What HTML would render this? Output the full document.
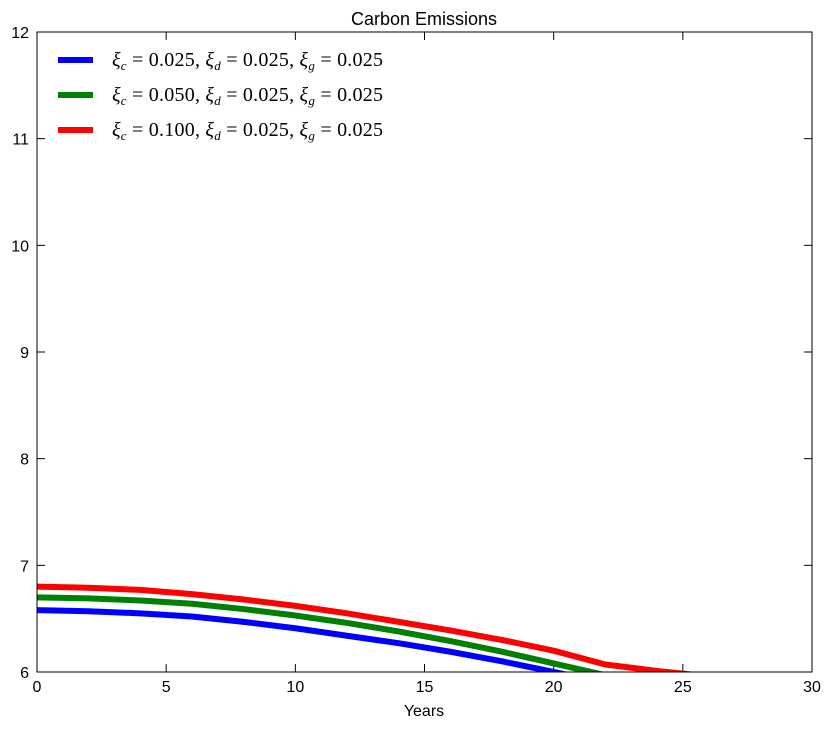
<!DOCTYPE html>
<html><head><meta charset="utf-8"><style>
body{margin:0;background:#fff;}
svg text{font-family:"Liberation Sans",sans-serif;}
</style></head><body>
<svg width="832" height="730">
<defs><clipPath id="plot"><rect x="37" y="32" width="775" height="640"/></clipPath></defs>
<rect x="0" y="0" width="832" height="730" fill="#fff"/>
<text x="424" y="25" text-anchor="middle" font-size="18">Carbon Emissions</text>
<g id="ticks"></g>
<g id="series" clip-path="url(#plot)"></g>
<rect x="37" y="32" width="775" height="640" fill="none" stroke="#000" stroke-width="1"/>
<text x="424" y="716" text-anchor="middle" font-size="16">Years</text>
<g id="legend"></g>
</svg>
<script>
const years=[0,2,4,6,8,10,12,14,16,18,20,22,24,26,28,30];
const seriesBlue=[6.58,6.57,6.55,6.52,6.47,6.41,6.34,6.27,6.19,6.10,6.00,5.90,5.82,5.76,5.71,5.67];
const seriesGreen=[6.70,6.69,6.67,6.64,6.59,6.53,6.46,6.38,6.29,6.19,6.08,5.97,5.90,5.84,5.80,5.76];
const seriesRed=[6.80,6.79,6.77,6.73,6.68,6.62,6.55,6.47,6.39,6.30,6.20,6.07,6.01,5.96,5.91,5.87];
const xTicks=[0,5,10,15,20,25,30];
const yTicks=[6,7,8,9,10,11,12];
const xiC=["0.025","0.050","0.100"];
const xiD=["0.025","0.025","0.025"];
const xiG=["0.025","0.025","0.025"];
const NS="http://www.w3.org/2000/svg";
const X=v=>37+(v-0)/30*775, Y=v=>672-(v-6)/6*640;
function mk(t,a,p){const e=document.createElementNS(NS,t);for(const k in a)e.setAttribute(k,a[k]);p.appendChild(e);return e;}
const tg=document.getElementById('ticks');
xTicks.forEach(v=>{const x=X(v);
 mk('line',{x1:x,x2:x,y1:672,y2:664,stroke:'#000'},tg);
 mk('line',{x1:x,x2:x,y1:32,y2:40,stroke:'#000'},tg);
 const t=mk('text',{x:x,y:692,'text-anchor':'middle','font-size':16},tg);t.textContent=v;
 
 });
yTicks.forEach(v=>{const y=Y(v);
 mk('line',{x1:37,x2:45,y1:y,y2:y,stroke:'#000'},tg);
 mk('line',{x1:812,x2:804,y1:y,y2:y,stroke:'#000'},tg);
 const t=mk('text',{x:29,y:y+6,'text-anchor':'end','font-size':16},tg);t.textContent=v;
 
 });
const sg=document.getElementById('series');
const all=[[seriesBlue,'#0000ff','series-blue'],[seriesGreen,'#008000','series-green'],[seriesRed,'#ff0000','series-red']];
all.forEach(([d,c,n])=>{const p=mk('polyline',{points:d.map((v,i)=>X(years[i])+','+Y(v)).join(' '),fill:'none',stroke:c,'stroke-width':6,'stroke-linejoin':'round'},sg);
 
 });
const lg=document.getElementById('legend');
function part(t,sym,sub,val,last){
 let s=mk('tspan',{'font-style':'italic'},t);s.textContent=sym;
 s=mk('tspan',{'font-style':'italic','font-size':13,dy:4},t);s.textContent=sub;
 s=mk('tspan',{dy:-4},t);s.textContent=" = "+val+(last?"":", ");
}
all.forEach(([d,c,n],i)=>{const y=60+i*35;
 const l=mk('line',{x1:58,x2:93,y1:y,y2:y,stroke:c,'stroke-width':6},lg);
 
 
 const t=mk('text',{x:112,y:y+6,'font-size':20,textLength:271,style:'font-family:"Liberation Serif",serif'},lg);
 part(t,"\u03BE","c",xiC[i],false);part(t,"\u03BE","d",xiD[i],false);part(t,"\u03BE","g",xiG[i],true);
 
 });
</script>
</body></html>
